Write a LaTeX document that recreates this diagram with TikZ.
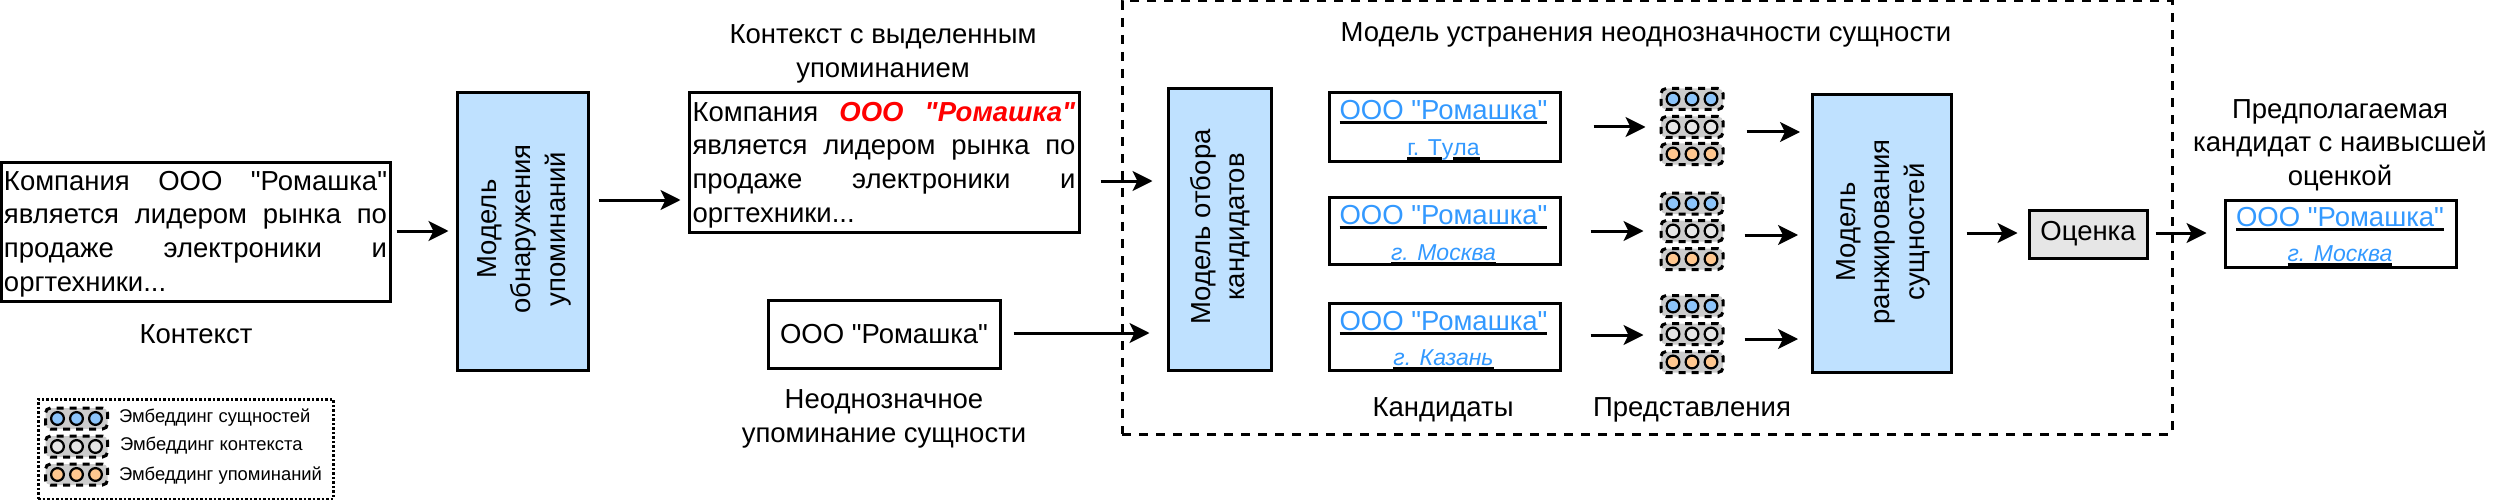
\documentclass[tikz,border=0pt]{standalone}
\usepackage{fontspec}
\newfontfamily\mf{Liberation Sans}
\usetikzlibrary{arrows.meta}
\definecolor{cblue}{HTML}{3399FF}
\definecolor{mfill}{HTML}{BFE1FF}
\definecolor{chipg}{HTML}{CCCCCC}
\definecolor{dotb}{HTML}{8CC4FA}
\definecolor{dotg}{HTML}{E6E6E6}
\definecolor{doto}{HTML}{FFC78F}
\newcommand\ublue[1]{\leavevmode\setbox0=\hbox{\textcolor{cblue}{#1}}\rlap{\color{black}\rule[-4.5pt]{\wd0}{3pt}}\box0 }
\newcommand\mybox[7]{\node[#2,minimum width={#5-#3},minimum height={#6-#4}] (#1) at ({(#3+#5)/2},{(#4+#6)/2}) {#7};}
\newcommand\jtext[5]{\parbox{#1}{\vskip5pt\hbox to #1{#2}\hbox to #1{#3}\hbox to #1{#4}\hbox{#5}}}
\newcommand\conn[5]{\draw[arr,shorten <=#4pt,shorten >=#5pt] (#1.east |- 0,#3) -- (#2.west |- 0,#3);}
\newcommand\chip[4]{%
  \node[chipbox] (#1) at (#2,#3) {};
  \node[chipdot,fill=#4] (#1a) at (#2-19,#3) {};
  \node[chipdot,fill=#4] (#1b) at (#2,#3) {};
  \node[chipdot,fill=#4] (#1c) at (#2+19,#3) {};
}
\tikzset{
  main/.style={font=\mf\fontsize{27.5}{33.6}\selectfont},
  plain/.style={main,draw=black,line width=3pt,inner sep=0pt,fill=white},
  model/.style={plain,fill=mfill},
  lbl/.style={main,inner sep=0pt,align=center},
  vlbl/.style={inner sep=0pt,align=center,rotate=90,font=\mf\fontsize{27.5}{34.6}\selectfont},
  arr/.style={line width=3pt,-{Stealth[length=20pt,width=20pt,inset=5pt]}},
  chipbox/.style={draw=black,fill=chipg,line width=3pt,rounded corners=5pt,minimum width=62pt,minimum height=21pt,inner sep=0pt,dash pattern=on 7pt off 6pt},
  chipdot/.style={circle,draw=black,line width=2.2pt,minimum size=12.8pt,inner sep=0pt},
  leg/.style={anchor=west,inner sep=0pt,font=\mf\fontsize{18.4}{22}\selectfont},
  ctext/.style={main,anchor=base,inner sep=0pt},
  stext/.style={anchor=base,inner sep=0pt,font=\mf\fontsize{23}{28}\selectfont},
  outer/.style={draw=black,line width=3pt,dash pattern=on 9pt off 8pt,inner sep=0pt},
  legbox/.style={draw=black,line width=3pt,dash pattern=on 2.5pt off 2pt,inner sep=0pt},
}
\begin{document}
\begin{tikzpicture}[x=1pt,y=-1pt]
\useasboundingbox (0,0) rectangle (2500,500);
% outer dashed frame
\mybox{frame}{outer}{1122}{1}{2172}{434}{}
\node[lbl] (ftitle) at (1646,35) {Модель устранения неоднозначности сущности};
% context
\mybox{ctx}{plain}{1}{162}{390}{301}{\jtext{383pt}{Компания\hfill ООО\hfill "Ромашка"}{является\hfill лидером\hfill рынка\hfill по}{продаже\hfill электроники\hfill и}{оргтехники...}}
\node[lbl] (ctxl) at (196,334) {Контекст};
% detection model
\mybox{det}{model}{457}{93}{588}{370}{}
\node[vlbl] (detl) at (524,229) {Модель\\обнаружения\\упоминаний};
% highlighted
\node[lbl] (hll) at (883,54) {Контекст с выделенным\\упоминанием};
\mybox{hl}{plain}{689}{93}{1079}{232}{\jtext{383pt}{Компания\hfill\textcolor{red}{\textbf{\textit{ООО}}}\hfill\textcolor{red}{\textbf{\textit{"Ромашка"}}}}{является\hfill лидером\hfill рынка\hfill по}{продаже\hfill электроники\hfill и}{оргтехники...}}
% mention
\mybox{men}{plain}{768}{300}{1000}{368}{ООО "Ромашка"}
\node[lbl] (menl) at (884,419) {Неоднозначное\\упоминание сущности};
% candidate selection
\mybox{sel}{model}{1168}{89}{1271}{370}{}
\node[vlbl] (sell) at (1220,227) {Модель отбора\\кандидатов};
% candidates
\mybox{ca}{plain}{1329}{93}{1560}{161}{}
\mybox{cb}{plain}{1329}{197}{1560}{264}{}
\mybox{cc}{plain}{1329}{303}{1560}{370}{}
\node[ctext] (cat) at (1443.5,120) {\ublue{ООО "Ромашка"}};
\node[stext] (cas) at (1443.5,155) {\ublue{г. Т}\textcolor{cblue}{у}\ublue{ла}};
\node[ctext] (cbt) at (1443.5,224) {\ublue{ООО "Ромашка"}};
\node[stext] (cbs) at (1443.5,260) {\ublue{\textit{г. Москва}}};
\node[ctext] (cct) at (1443.5,330) {\ublue{ООО "Ромашка"}};
\node[stext] (ccs) at (1443.5,365) {\ublue{\textit{г. Казань}}};
\node[lbl] (cl) at (1443,410) {Кандидаты};
% representations
\chip{r1a}{1692}{99}{dotb}
\chip{r1b}{1692}{127}{dotg}
\chip{r1c}{1692}{154}{doto}
\chip{r2a}{1692}{203.5}{dotb}
\chip{r2b}{1692}{231}{dotg}
\chip{r2c}{1692}{259}{doto}
\chip{r3a}{1692}{306}{dotb}
\chip{r3b}{1692}{334}{dotg}
\chip{r3c}{1692}{362}{doto}
\node[lbl] (rl) at (1692,410) {Представления};
% ranking
\mybox{rank}{model}{1812.5}{95}{1951}{372}{}
\node[vlbl] (rankl) at (1883,232) {Модель\\ранжирования\\сущностей};
% score
\mybox{score}{plain,fill=dotg}{2029}{210}{2147}{258}{Оценка}
\mybox{fin}{plain}{2225}{200}{2456}{267}{}
\node[ctext] (fint) at (2340,226) {\ublue{ООО "Ромашка"}};
\node[stext] (fins) at (2340,261) {\ublue{\textit{г. Москва}}};
\node[lbl] (finl) at (2340,145) {Предполагаемая\\кандидат с наивысшей\\оценкой};
% connectors
\conn{ctx}{det}{231}{5}{7}
\conn{det}{hl}{200}{9}{7}
\conn{hl}{sel}{181}{20}{14}
\conn{men}{sel}{333}{12}{17}
\conn{ca}{r1b}{127}{32}{14}
\conn{cb}{r2b}{231}{29}{16}
\conn{cc}{r3b}{335}{29}{16}
\conn{r1b}{rank}{132}{22}{11}
\conn{r2b}{rank}{235}{20}{13}
\conn{r3b}{rank}{339}{20}{13}
\conn{rank}{score}{233}{14}{10}
\conn{score}{fin}{233}{7}{17}
% legend
\mybox{legb}{legbox}{38}{399}{333}{499}{}
\chip{l1}{76.5}{418.5}{dotb}
\chip{l2}{76.5}{446.5}{dotg}
\chip{l3}{76.5}{474.5}{doto}
\node[leg] (lt1) at (119,418) {Эмбеддинг сущностей};
\node[leg] (lt2) at (120,446) {Эмбеддинг контекста};
\node[leg] (lt3) at (119,476) {Эмбеддинг упоминаний};
\end{tikzpicture}
\end{document}
